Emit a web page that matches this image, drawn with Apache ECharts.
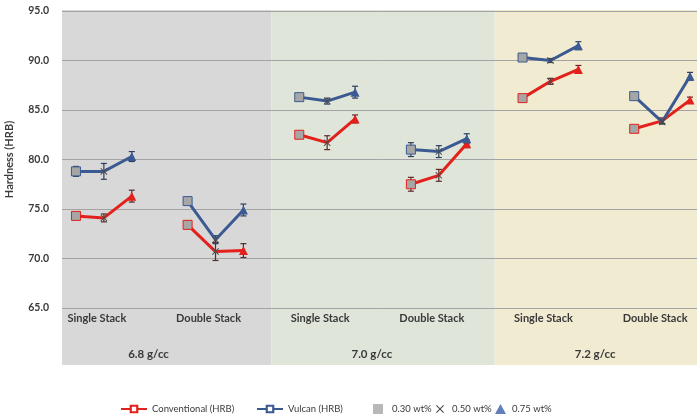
<!DOCTYPE html>
<html>
<head>
<meta charset="utf-8">
<script src="https://cdn.jsdelivr.net/npm/echarts@6/dist/echarts.min.js"></script>
<style>
html,body{margin:0;padding:0;background:#fff;}
#c{width:697px;height:417px;}
</style>
</head>
<body>
<div id="c"></div>
<script>
// ---- data ----
const densities = ['6.8 g/cc', '7.0 g/cc', '7.2 g/cc'];
const stacks = ['Single Stack', 'Double Stack'];
const additives = ['0.30 wt%', '0.50 wt%', '0.75 wt%'];
const seriesNames = ['Conventional (HRB)', 'Vulcan (HRB)'];
// order: density -> stack -> additive
const conventional = [74.3, 74.1, 76.3, 73.4, 70.7, 70.8, 82.5, 81.7, 84.1, 77.5, 78.4, 81.6, 86.2, 87.9, 89.1, 83.1, 83.9, 86.0];
const conventionalErr = [0.3, 0.4, 0.6, 0.4, 0.9, 0.7, 0.3, 0.7, 0.4, 0.7, 0.6, 0.4, 0.2, 0.3, 0.4, 0.2, 0.3, 0.3];
const vulcan = [78.8, 78.8, 80.3, 75.8, 71.9, 74.9, 86.3, 85.9, 86.8, 81.0, 80.8, 82.1, 90.3, 90.0, 91.5, 86.4, 83.8, 88.4];
const vulcanErr = [0.5, 0.8, 0.5, 0.3, 0.4, 0.6, 0.3, 0.3, 0.6, 0.7, 0.6, 0.5, 0.2, 0.2, 0.4, 0.2, 0.2, 0.4];
const yMin = 65, yMax = 95, yStep = 5;

// ---- styling ----
const RED = '#e3211c', BLUE = '#3c5a92', GREY = '#a6a6a6', XCOL = '#4a4a4a';
const panelColors = ['#d8d8d8', '#dfe5d9', '#f1ebd1'];
const txt = '#3a3a3a';
const FONT = 'Lato';
const xPath = 'path://M0,1L1,0L5,4L9,0L10,1L6,5L10,9L9,10L5,6L1,10L0,9L4,5Z';
const lineIcon = 'path://M0,4H8V1H16V4H24V6H16V9H8V6H0Z M10,3V7H14V3Z';

// slot layout: each density panel spans 8 units; stacks at 0 and 4; additives at +1,+2,+3
function xOf(i) {
  const g = Math.floor(i / 3), k = i % 3;
  const panel = Math.floor(g / 2), s = g % 2;
  return panel * 8 + s * 4 + 1 + k;
}
function buildLine(vals, color) {
  const out = [];
  vals.forEach((v, i) => {
    const k = i % 3;
    let sym, size, style;
    if (k === 0) { sym = 'rect'; size = 9; style = { color: GREY, borderColor: color, borderWidth: 1 }; }
    else if (k === 1) { sym = xPath; size = 7; style = { color: XCOL }; }
    else { sym = 'triangle'; size = 9; style = { color: color }; }
    out.push({ value: [xOf(i), v], symbol: sym, symbolSize: size, itemStyle: style });
    if (k === 2) out.push({ value: [xOf(i) + 1, '-'] });
  });
  return out;
}
function buildErr(vals, errs) {
  return vals.map((v, i) => [xOf(i), v, errs[i]]);
}
function errSeries(vals, errs, color) {
  return {
    type: 'custom', silent: true, z: 3,
    data: buildErr(vals, errs),
    renderItem: function (params, api) {
      const x = api.value(0), y = api.value(1), e = api.value(2);
      const top = api.coord([x, y + e]), bot = api.coord([x, y - e]);
      const w = 3;
      const st = { stroke: color, lineWidth: 1.2 };
      return {
        type: 'group', children: [
          { type: 'line', shape: { x1: top[0], y1: top[1], x2: bot[0], y2: bot[1] }, style: st },
          { type: 'line', shape: { x1: top[0] - w, y1: top[1], x2: top[0] + w, y2: top[1] }, style: st },
          { type: 'line', shape: { x1: bot[0] - w, y1: bot[1], x2: bot[0] + w, y2: bot[1] }, style: st }
        ]
      };
    }
  };
}

const stackLabelPos = [], stackLabelText = [];
densities.forEach((d, p) => stacks.forEach((s, j) => { stackLabelPos.push(p * 8 + j * 4 + 2 - 0.25); stackLabelText.push(s); }));
const densityPos = densities.map((d, p) => p * 8 + 4 - 0.4);

const X_MIN = 0.5, X_MAX = 23.25;
const chart = echarts.init(document.getElementById('c'), null, { renderer: 'canvas' });

function legendItem(left, name, icon, w, h, pad) {
  return {
    left: left, top: 399, itemWidth: w, itemHeight: h, itemGap: 0, selectedMode: false,
    data: [{ name: name, icon: icon }],
    textStyle: { fontFamily: FONT, fontSize: 9.5, color: txt, padding: [0, 0, 0, pad] }
  };
}

const option = {
  animation: false,
  grid: { left: 62, right: 0, top: 11, bottom: 109, outerBoundsMode: 'none', containLabel: false },
  xAxis: [
    {
      type: 'value', min: X_MIN, max: X_MAX,
      axisLine: { show: false }, axisTick: { show: false }, splitLine: { show: false },
      axisLabel: {
        customValues: stackLabelPos, margin: 5,
        formatter: function (v) { const i = stackLabelPos.findIndex(p => Math.abs(p - v) < 1e-6); return i >= 0 ? stackLabelText[i] : ''; },
        fontFamily: FONT, fontSize: 11, fontWeight: 'bold', color: txt
      }
    },
    {
      type: 'value', min: X_MIN, max: X_MAX, position: 'bottom', offset: 32,
      axisLine: { show: false }, axisTick: { show: false }, splitLine: { show: false },
      axisLabel: {
        customValues: densityPos,
        formatter: function (v) { const i = densityPos.findIndex(p => Math.abs(p - v) < 1e-6); return i >= 0 ? densities[i] : ''; },
        fontFamily: FONT, fontSize: 11.5, fontWeight: 'bold', color: txt
      }
    }
  ],
  yAxis: {
    type: 'value', min: yMin, max: yMax, interval: yStep,
    name: 'Hardness (HRB)', nameLocation: 'middle', nameGap: 47, nameRotate: 90,
    nameTextStyle: { fontFamily: FONT, fontSize: 11, fontWeight: 'bold', color: txt },
    axisLine: { show: false }, axisTick: { show: false },
    axisLabel: { formatter: v => v.toFixed(1), fontFamily: FONT, fontSize: 10.5, fontWeight: 'bold', color: txt, margin: 13 },
    splitLine: { lineStyle: { color: '#a3a3a3', width: 1 } }
  },
  legend: [
    legendItem(116, seriesNames[0], lineIcon, 26, 9, 0),
    legendItem(252, seriesNames[1], lineIcon, 26, 9, 0),
    legendItem(368, additives[0], 'rect', 10, 10, 4),
    legendItem(431, additives[1], xPath, 8, 8, 3),
    legendItem(490, additives[2], 'triangle', 11, 10, 1)
  ],
  series: [
    { name: seriesNames[0], type: 'line', z: 4, data: buildLine(conventional, RED), connectNulls: false,
      lineStyle: { color: RED, width: 3 }, itemStyle: { color: RED }, symbol: 'rect', symbolSize: 9 },
    { name: seriesNames[1], type: 'line', z: 4, data: buildLine(vulcan, BLUE), connectNulls: false,
      lineStyle: { color: BLUE, width: 3 }, itemStyle: { color: BLUE }, symbol: 'rect', symbolSize: 9 },
    errSeries(conventional, conventionalErr, '#5a2a2a'),
    errSeries(vulcan, vulcanErr, '#2e3e5e'),
    { name: additives[0], type: 'scatter', data: [], itemStyle: { color: GREY } },
    { name: additives[1], type: 'scatter', data: [], itemStyle: { color: '#222' } },
    { name: additives[2], type: 'scatter', data: [], itemStyle: { color: '#3b5fa8' } }
  ]
};
chart.setOption(option);

// panel backgrounds, positioned through the axis scales
const left = chart.convertToPixel({ xAxisIndex: 0 }, X_MIN);
const right = chart.convertToPixel({ xAxisIndex: 0 }, X_MAX);
const topY = chart.convertToPixel({ yAxisIndex: 0 }, yMax) - 1;
const botY = chart.convertToPixel({ yAxisIndex: 0 }, yMin) + 57;
const rects = densities.map((d, p) => {
  const a = Math.max(left, chart.convertToPixel({ xAxisIndex: 0 }, p * 8));
  const b = Math.min(right, chart.convertToPixel({ xAxisIndex: 0 }, p * 8 + 8));
  return { type: 'rect', z: -100, silent: true, shape: { x: a, y: topY, width: b - a, height: botY - topY }, style: { fill: panelColors[p] } };
});
chart.setOption({ graphic: { elements: rects } });
</script>
</body>
</html>
